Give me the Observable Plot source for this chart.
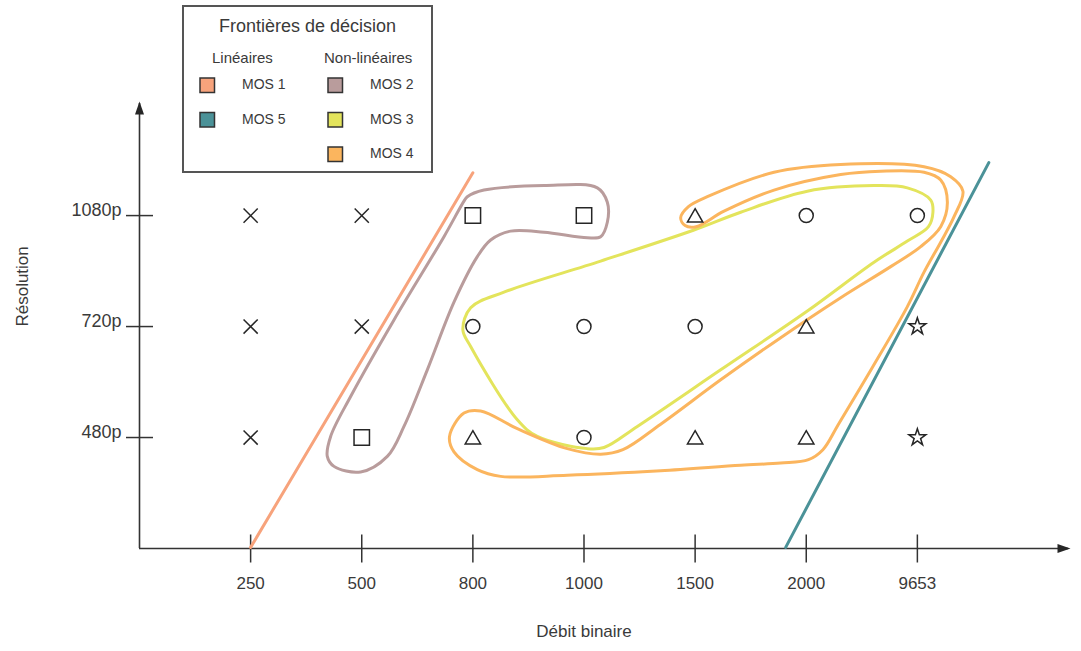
<!DOCTYPE html>
<html><head><meta charset="utf-8">
<script src="https://cdn.jsdelivr.net/npm/d3@7"></script>
<script src="https://cdn.jsdelivr.net/npm/@observablehq/plot@0.6"></script>
<style>
body{margin:0;background:#fff;font-family:"Liberation Sans",Arial,sans-serif;}
#wrap{position:relative;width:1081px;height:651px;}
#legend{position:absolute;left:0;top:0;pointer-events:none;}
</style></head>
<body><div id="wrap"><div id="chart"></div></div>
<script>
// ---- data ----
const bitrates = ["250", "500", "800", "1000", "1500", "2000", "9653"];
const resolutions = ["480p", "720p", "1080p"];
const symbols480  = ["times", "square", "triangle", "circle", "triangle", "triangle", "star"];
const symbols720  = ["times", "times", "circle", "circle", "circle", "triangle", "star"];
const symbols1080 = ["times", "times", "square", "square", "triangle", "circle", "circle"];

// decision boundaries (x = bitrate index, y = resolution index)
const mos1Line = [[0.0, -0.99], [2.0, 2.385]];
const mos5Line = [[4.815, -0.99], [6.643, 2.477]];
const mos2Curve = [
  [1.95, 2.17], [2.10, 2.23], [2.64, 2.27], [3.12, 2.25], [3.21, 2.12], [3.21, 1.94],
  [3.15, 1.81], [3.03, 1.80], [2.64, 1.85], [2.34, 1.86], [2.16, 1.78], [2.04, 1.63],
  [1.83, 1.22], [1.59, 0.61], [1.38, 0.10], [1.23, -0.17], [0.99, -0.31], [0.75, -0.26],
  [0.69, -0.17], [0.72, 0.01], [0.90, 0.37], [1.29, 1.06], [1.74, 1.81], [1.92, 2.13]
];
const mos3Curve = [
  [1.91, 0.97], [1.98, 1.17], [2.28, 1.31], [3.15, 1.59], [3.99, 1.87], [4.41, 2.03],
  [5.01, 2.22], [5.61, 2.27], [5.91, 2.25], [6.12, 2.14], [6.14, 2.03], [6.10, 1.90],
  [5.91, 1.77], [5.61, 1.58], [5.01, 1.14], [4.23, 0.61], [3.48, 0.10], [3.18, -0.09],
  [3.03, -0.10], [2.58, 0.01], [2.40, 0.16], [1.98, 0.82]
];
const mos4Curve = [
  [3.87, 1.98], [3.94, 2.08], [4.11, 2.17], [4.71, 2.39], [5.31, 2.46], [6.06, 2.44],
  [6.30, 2.35], [6.41, 2.22], [6.33, 1.99], [6.21, 1.76], [6.06, 1.49], [5.91, 1.18],
  [5.60, 0.64], [5.29, 0.12], [5.15, -0.11], [5.02, -0.20], [4.77, -0.23],
  [4.41, -0.25], [3.69, -0.30], [2.85, -0.34], [2.25, -0.35], [2.04, -0.29], [1.83, -0.13],
  [1.79, 0.01], [1.92, 0.22], [2.07, 0.24], [2.40, 0.08], [2.85, -0.10], [3.15, -0.15],
  [3.35, -0.11], [3.69, 0.12], [4.23, 0.52], [4.77, 0.90], [5.31, 1.26], [5.76, 1.54],
  [6.03, 1.72], [6.21, 1.90], [6.27, 2.12], [6.21, 2.32], [6.06, 2.39], [5.67, 2.40],
  [5.31, 2.37], [4.71, 2.23], [4.26, 2.04], [4.01, 1.90], [3.91, 1.91]
];

const linearNames = ["MOS 1", "MOS 5"];
const nonLinearNames = ["MOS 2", "MOS 3", "MOS 4"];
const colors = {"MOS 1": "#f7a37c", "MOS 5": "#4b9298", "MOS 2": "#b99c9c", "MOS 3": "#e3e45c", "MOS 4": "#fbb55e"};

const xTitle = "Débit binaire";
const yTitle = "Résolution";
const legendTitle = "Frontières de décision";
const linearTitle = "Linéaires";
const nonLinearTitle = "Non-linéaires";

// ---- build ----
const rows = [symbols480, symbols720, symbols1080];
const points = rows.flatMap((syms, j) => syms.map((s, i) => ({x: i, y: j, s})));
const symbolR = {times: 6.5, square: 8.7, circle: 7, triangle: 5.7, star: 5.3};
const xIdx = d3.range(bitrates.length);
const yIdx = d3.range(resolutions.length);
const xDomain = [-1, 7.36];
const yDomain = [-1, 3.01];

const vTick = {draw(ctx, size) { const r = Math.sqrt(size / Math.PI); ctx.moveTo(0, -r); ctx.lineTo(0, r); }};
const hTick = {draw(ctx, size) { const r = Math.sqrt(size / Math.PI); ctx.moveTo(-r, 0); ctx.lineTo(r, 0); }};
const arrowRight = {draw(ctx) { ctx.moveTo(2, 0); ctx.lineTo(-11, -4.5); ctx.lineTo(-11, 4.5); ctx.closePath(); }};
const arrowUp = {draw(ctx) { ctx.moveTo(0, -2); ctx.lineTo(-4.5, 11); ctx.lineTo(4.5, 11); ctx.closePath(); }};

const ink = "#262626";
const plot = Plot.plot({
  width: 1081,
  height: 651,
  marginLeft: 139,
  marginRight: 13,
  marginTop: 103,
  marginBottom: 103,
  x: {domain: xDomain, axis: null},
  y: {domain: yDomain, axis: null},
  style: {fontFamily: "'Liberation Sans', Arial, sans-serif", color: "#3a3a3a", background: "white", overflow: "visible"},
  marks: [
    Plot.ruleY([yDomain[0]], {stroke: "#333", strokeWidth: 1.6}),
    Plot.ruleX([xDomain[0]], {stroke: "#333", strokeWidth: 1.6}),
    Plot.dot(xIdx, {x: d => d, frameAnchor: "bottom", symbol: vTick, r: 14, stroke: "#333", strokeWidth: 1.5}),
    Plot.dot(yIdx, {y: d => d, frameAnchor: "left", symbol: hTick, r: 13.5, stroke: "#333", strokeWidth: 1.5}),
    Plot.dot([0], {frameAnchor: "bottom-right", symbol: arrowRight, fill: ink, stroke: "none"}),
    Plot.dot([0], {frameAnchor: "top-left", symbol: arrowUp, fill: ink, stroke: "none"}),
    Plot.axisX({ticks: xIdx, tickFormat: i => bitrates[i], tickSize: 0, tickPadding: 28, fontSize: 17, label: null}),
    Plot.axisY({ticks: yIdx, tickFormat: i => resolutions[i], tickSize: 0, tickPadding: 18, fontSize: 18, dy: -5, label: null}),
    Plot.text([xTitle], {text: d => d, x: (bitrates.length - 1) / 2, frameAnchor: "bottom", dy: 88, fontSize: 17}),
    Plot.text([yTitle], {text: d => d, y: 1, frameAnchor: "left", dx: -117, rotate: -90, fontSize: 17}),
    Plot.line(mos1Line, {stroke: colors["MOS 1"], strokeWidth: 3}),
    Plot.line(mos5Line, {stroke: colors["MOS 5"], strokeWidth: 3}),
    Plot.line(mos2Curve, {curve: "catmull-rom-closed", stroke: colors["MOS 2"], strokeWidth: 3}),
    Plot.line(mos3Curve, {curve: "catmull-rom-closed", stroke: colors["MOS 3"], strokeWidth: 3}),
    Plot.line(mos4Curve, {curve: "catmull-rom-closed", stroke: colors["MOS 4"], strokeWidth: 3}),
    ...Object.keys(symbolR).map(s =>
      Plot.dot(points.filter(p => p.s === s), {x: "x", y: "y", symbol: s, r: symbolR[s], fill: "none", stroke: ink, strokeWidth: 1.5, dy: s === "triangle" ? 2 : 0}))
  ]
});
document.getElementById("chart").appendChild(plot);

// ---- legend ----
const lg = d3.select("#wrap").append("svg").attr("id", "legend").attr("width", 1081).attr("height", 180)
  .style("font-family", "'Liberation Sans', Arial, sans-serif");
lg.append("rect").attr("x", 183).attr("y", 6).attr("width", 249).attr("height", 166)
  .attr("fill", "white").attr("stroke", "#555").attr("stroke-width", 2);
lg.append("text").attr("x", 307.5).attr("y", 32).attr("text-anchor", "middle").attr("font-size", 18).attr("fill", "#3a3a3a").text(legendTitle);
lg.append("text").attr("x", 212).attr("y", 63).attr("font-size", 15).attr("fill", "#3a3a3a").text(linearTitle);
lg.append("text").attr("x", 324).attr("y", 63).attr("font-size", 15).attr("fill", "#3a3a3a").text(nonLinearTitle);
const cols = [{names: linearNames, sx: 200, tx: 242}, {names: nonLinearNames, sx: 328, tx: 370}];
cols.forEach(c => c.names.forEach((n, k) => {
  const y0 = 78 + k * 34.5;
  lg.append("rect").attr("x", c.sx).attr("y", y0).attr("width", 14.5).attr("height", 14.5)
    .attr("fill", colors[n]).attr("stroke", "#333").attr("stroke-width", 1.5);
  lg.append("text").attr("x", c.tx).attr("y", y0 + 11).attr("font-size", 14).attr("fill", "#3a3a3a").text(n);
}));
</script>
</body></html>
